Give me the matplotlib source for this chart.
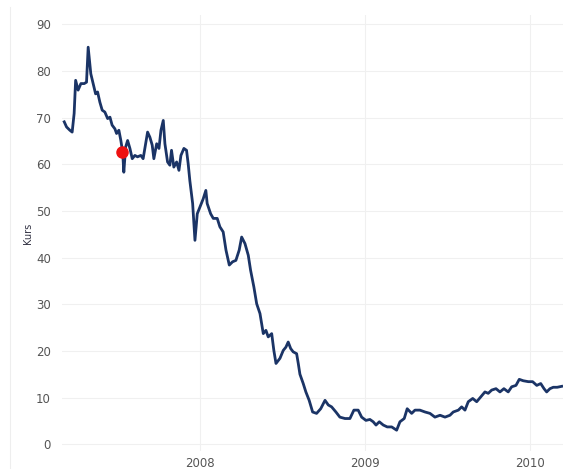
import numpy as np
import matplotlib.pyplot as plt

# decimal years
jahr = [2007.178, 2007.192, 2007.212, 2007.226, 2007.238, 2007.247, 2007.262, 2007.279,
        2007.299, 2007.313, 2007.323, 2007.339, 2007.353, 2007.368, 2007.380, 2007.394,
        2007.408, 2007.424, 2007.441, 2007.455, 2007.468, 2007.485, 2007.495, 2007.509,
        2007.521, 2007.532, 2007.539, 2007.550, 2007.562, 2007.576, 2007.590, 2007.606,
        2007.622, 2007.642, 2007.656, 2007.671, 2007.683, 2007.697, 2007.711, 2007.721,
        2007.738, 2007.752, 2007.764, 2007.778, 2007.788, 2007.804, 2007.818, 2007.828,
        2007.842, 2007.859, 2007.873, 2007.885, 2007.903, 2007.919, 2007.929, 2007.939,
        2007.956, 2007.970, 2007.984, 2008.000, 2008.020, 2008.036, 2008.044, 2008.065,
        2008.081, 2008.105, 2008.121, 2008.141, 2008.158, 2008.178, 2008.198, 2008.218,
        2008.238, 2008.253, 2008.273, 2008.293, 2008.307, 2008.327, 2008.344, 2008.364,
        2008.384, 2008.400, 2008.414, 2008.435, 2008.448, 2008.461, 2008.485, 2008.505,
        2008.521, 2008.535, 2008.550, 2008.565, 2008.586, 2008.596, 2008.606, 2008.626,
        2008.642, 2008.662, 2008.683, 2008.707, 2008.732, 2008.758, 2008.778, 2008.798,
        2008.824, 2008.848, 2008.879, 2008.909, 2008.933, 2008.959, 2008.980, 2009.006,
        2009.030, 2009.050, 2009.067, 2009.087, 2009.111, 2009.135, 2009.162, 2009.192,
        2009.212, 2009.238, 2009.256, 2009.283, 2009.303, 2009.333, 2009.364, 2009.394,
        2009.424, 2009.455, 2009.485, 2009.515, 2009.535, 2009.566, 2009.586, 2009.606,
        2009.626, 2009.653, 2009.677, 2009.701, 2009.727, 2009.747, 2009.768, 2009.794,
        2009.818, 2009.842, 2009.868, 2009.889, 2009.915, 2009.935, 2009.959, 2009.990,
        2010.016, 2010.041, 2010.065, 2010.085, 2010.101, 2010.121, 2010.141, 2010.165,
        2010.192]
kurs = [69.1, 68.0, 67.3, 66.9, 70.9, 78.0, 75.9, 77.3,
        77.3, 77.6, 85.1, 79.4, 77.3, 75.1, 75.5, 73.3,
        71.6, 71.2, 69.8, 70.1, 68.4, 67.6, 66.6, 67.3,
        65.1, 62.6, 58.3, 63.7, 65.1, 63.4, 61.2, 61.9,
        61.6, 61.9, 61.2, 64.4, 66.9, 65.8, 64.1, 61.2,
        64.4, 63.4, 67.3, 69.4, 64.4, 60.5, 59.8, 63.0,
        59.4, 60.5, 58.7, 61.9, 63.4, 63.0, 60.1, 56.5,
        51.6, 43.7, 49.4, 50.8, 52.6, 54.4, 51.6, 49.4,
        48.4, 48.4, 46.6, 45.5, 41.6, 38.4, 39.1, 39.4,
        41.6, 44.4, 43.0, 40.5, 37.3, 33.7, 30.1, 28.0,
        23.7, 24.4, 23.0, 23.7, 20.1, 17.3, 18.4, 20.1,
        20.8, 21.9, 20.5, 19.8, 19.4, 17.3, 15.0, 13.0,
        11.2, 9.4, 6.9, 6.6, 7.6, 9.4, 8.4, 8.0,
        6.9, 5.8, 5.5, 5.5, 7.3, 7.3, 5.8, 5.1,
        5.3, 4.8, 4.1, 4.8, 4.1, 3.7, 3.7, 3.0,
        4.8, 5.5, 7.6, 6.6, 7.3, 7.3, 6.9, 6.6,
        5.8, 6.2, 5.8, 6.2, 6.9, 7.3, 8.0, 7.3,
        9.1, 9.8, 9.1, 10.1, 11.2, 10.9, 11.6, 11.9,
        11.2, 11.9, 11.2, 12.3, 12.6, 13.9, 13.6, 13.4,
        13.4, 12.6, 13.0, 11.9, 11.2, 11.9, 12.2, 12.2,
        12.4]
punkt_jahr = 2007.527
punkt_kurs = 62.6

fig = plt.figure(figsize=(5.63, 4.69), dpi=100)
ax = fig.add_axes([0.11, 0.038, 0.89, 0.93])

ax.plot(jahr, kurs, color="#1b3466", linewidth=2.0)
ax.plot([punkt_jahr], [punkt_kurs], "o", color="#ee1111", markersize=8, zorder=5)

ax.set_xlim(2007.164, 2010.2)
ax.set_ylim(-1.5, 92)
ax.set_yticks(np.arange(0, 91, 10))
ax.set_xticks([2008, 2009, 2010])
ax.set_xticklabels(["2008", "2009", "2010"])

ax.grid(True, color="#f0f0f0", linewidth=0.8)
ax.set_axisbelow(True)
for s in ax.spines.values():
    s.set_visible(False)
ax.tick_params(length=0, labelsize=8.5, labelcolor="#555555", pad=8)
ax.tick_params(axis="x", pad=4)
ax.set_ylabel("Kurs", fontsize=7, color="#333344", labelpad=2)

fig.add_artist(plt.Line2D([0.018, 0.018], [0, 0.985], color="#eeeeee", linewidth=0.8))

fig.savefig("out.png", dpi=100)
